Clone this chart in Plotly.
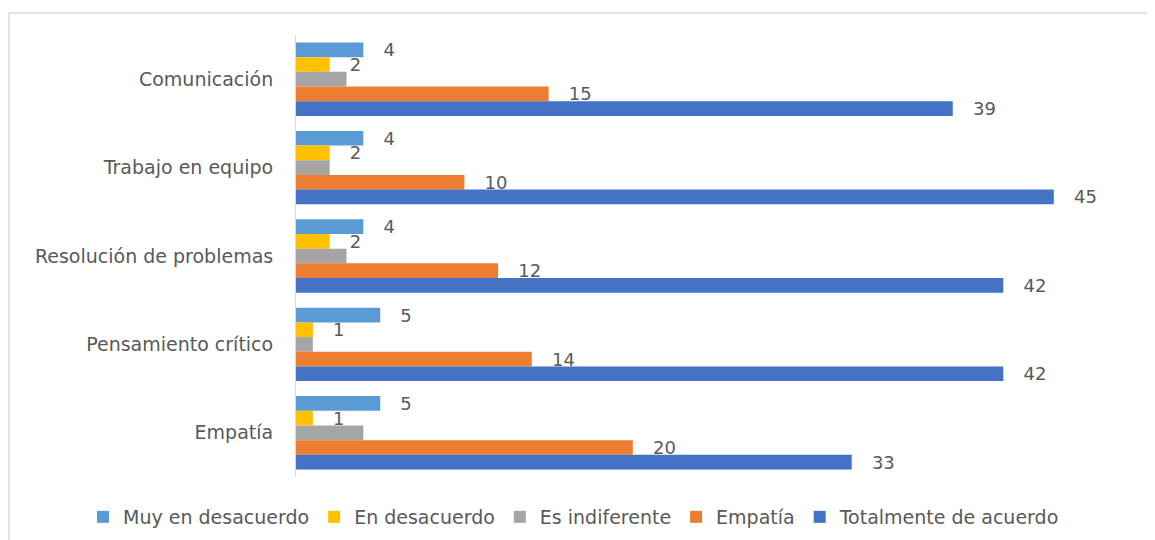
import plotly.graph_objects as go

categories = ["Comunicación", "Trabajo en equipo", "Resolución de problemas",
              "Pensamiento crítico", "Empatía"]
series_names = ["Muy en desacuerdo", "En desacuerdo", "Es indiferente",
                "Empatía", "Totalmente de acuerdo"]
muy_desacuerdo = [4, 4, 4, 5, 5]
en_desacuerdo = [2, 2, 2, 1, 1]
indiferente = [3, 2, 3, 1, 4]
empatia = [15, 10, 12, 14, 20]
totalmente = [39, 45, 42, 42, 33]

series_values = [muy_desacuerdo, en_desacuerdo, indiferente, empatia, totalmente]
colors = ["#5B9BD5", "#FFC000", "#A5A5A5", "#ED7D31", "#4472C4"]
show_labels = [True, True, False, True, True]

FONT = "DejaVu Sans, Verdana, sans-serif"
TXT = "#595959"
PAD = "\u00a0\u00a0\u00a0"

# figure geometry (page body adds an 8px offset)
W, H = 1147, 532
L, R, T, B = 288, 17, 27, 63
PW, PH = W - L - R, H - T - B

fig = go.Figure()
for name, vals, col, lab in zip(series_names, series_values, colors, show_labels):
    fig.add_trace(go.Bar(
        y=categories, x=vals, name=name, orientation="h",
        marker=dict(color=col, line=dict(width=0)),
        text=[PAD + str(v) for v in vals] if lab else None,
        textposition="outside" if lab else "none",
        constraintext="none",
        textfont=dict(family=FONT, size=18, color=TXT),
        cliponaxis=False,
    ))

fig.update_layout(
    width=W, height=H,
    margin=dict(l=L, r=R, t=T, b=B, autoexpand=False),
    paper_bgcolor="white", plot_bgcolor="white",
    barmode="group", bargap=0.17, bargroupgap=0,
    font=dict(family=FONT, color=TXT),
    showlegend=True,
    legend=dict(orientation="h", x=(75 - L) / PW, xanchor="left",
                y=-(509 - (H - B)) / PH, yanchor="middle",
                font=dict(family=FONT, size=19, color=TXT), traceorder="normal",
                itemwidth=30),
    xaxis=dict(range=[0, 50], showgrid=False, zeroline=False, showticklabels=False,
               showline=False, ticks="", automargin=False),
    yaxis=dict(autorange="reversed", showgrid=False, showline=True, linecolor="#D9D9D9",
               linewidth=1, ticks="", ticklabelstandoff=18, automargin=False,
               tickfont=dict(family=FONT, size=19, color=TXT)),
    shapes=[
        dict(type="line", xref="paper", yref="paper", x0=(1 - L) / PW, x1=(W + 10 - L) / PW,
             y0=(PH - (5 - T)) / PH, y1=(PH - (5 - T)) / PH,
             line=dict(color="#DFE5EC", width=2)),
        dict(type="line", xref="paper", yref="paper", x0=(1 - L) / PW, x1=(1 - L) / PW,
             y0=(PH - (5 - T)) / PH, y1=(PH - (H + 10 - T)) / PH,
             line=dict(color="#DFE5EC", width=2)),
    ],
)

fig.write_html("out.html")
